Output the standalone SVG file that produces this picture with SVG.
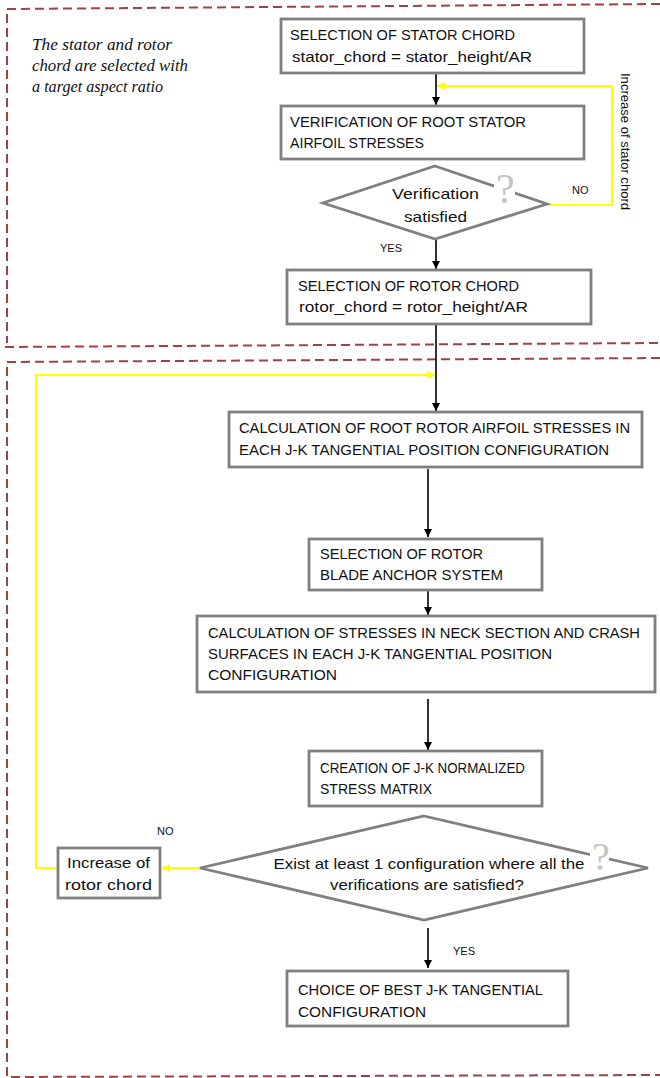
<svg xmlns="http://www.w3.org/2000/svg" width="660" height="1078" viewBox="0 0 660 1078">
<style>
.frame{fill:none;stroke:#a04242;stroke-width:2;stroke-dasharray:9 5}
.box{fill:#fff;stroke:#808080;stroke-width:2.8}
.t{font-family:"Liberation Sans",Arial,sans-serif;font-size:15px;fill:#111}
.s{font-family:"Liberation Sans",Arial,sans-serif;font-size:11px;fill:#111}
.it{font-family:"Liberation Serif","Times New Roman",serif;font-style:italic;font-size:16.5px;fill:#111}
.q{font-family:"Liberation Serif","Times New Roman",serif;fill:#c4c4c4}
.blk{fill:none;stroke:#000;stroke-width:1.6}
.yel{fill:none;stroke:#ffff00;stroke-width:2}
</style>
<defs>
<marker id="ab" markerUnits="userSpaceOnUse" markerWidth="8" markerHeight="8" refX="8" refY="4" orient="auto"><path d="M0,0 L8,4 L0,8 z" fill="#000"/></marker>
<marker id="ay" markerUnits="userSpaceOnUse" markerWidth="8" markerHeight="8" refX="8" refY="4" orient="auto"><path d="M0,0 L8,4 L0,8 z" fill="#ffff00"/></marker>
</defs>
<g id="frames">
<path class="frame" d="M660,4 L7,9 L7,343"/>
<path class="frame" d="M5,347 L660,343"/>
<path class="frame" d="M660,358 L7,362 L7,1077 L660,1075"/>
</g>
<g id="note">
<text class="it" x="32" y="50" textLength="140" lengthAdjust="spacingAndGlyphs">The stator and rotor</text>
<text class="it" x="32" y="71" textLength="156" lengthAdjust="spacingAndGlyphs">chord are selected with</text>
<text class="it" x="32" y="92" textLength="131" lengthAdjust="spacingAndGlyphs">a target aspect ratio</text>
</g>
<g id="connectors">
<line class="blk" x1="436" y1="73" x2="436" y2="105" marker-end="url(#ab)"/>
<polyline class="yel" points="547,205 612,205 612,86 437,86" marker-end="url(#ay)"/>
<line class="blk" x1="436" y1="240" x2="436" y2="269" marker-end="url(#ab)"/>
<line class="blk" x1="436" y1="325" x2="436" y2="411" marker-end="url(#ab)"/>
<polyline class="yel" points="58,868 36,868 36,375 435,375" marker-end="url(#ay)"/>
<line class="blk" x1="428" y1="469" x2="428" y2="537" marker-end="url(#ab)"/>
<line class="blk" x1="428" y1="591" x2="428" y2="615" marker-end="url(#ab)"/>
<line class="blk" x1="428" y1="699" x2="428" y2="750" marker-end="url(#ab)"/>
<line class="yel" x1="200" y1="868" x2="162" y2="868" marker-end="url(#ay)"/>
<line class="blk" x1="428" y1="928" x2="428" y2="968" marker-end="url(#ab)"/>
<text class="s" x="572" y="194">NO</text>
<text class="s" x="380" y="252">YES</text>
<text class="t" transform="translate(621,73) rotate(90)" style="font-size:13px" textLength="137" lengthAdjust="spacingAndGlyphs">Increase of stator chord</text>
<text class="s" x="157" y="835">NO</text>
<text class="s" x="453" y="955">YES</text>
</g>
<g id="n1">
<rect class="box" x="281" y="19" width="303" height="54"/>
<text class="t" x="290" y="40" textLength="225" lengthAdjust="spacingAndGlyphs">SELECTION OF STATOR CHORD</text>
<text class="t" x="292" y="62" textLength="240" lengthAdjust="spacingAndGlyphs">stator_chord = stator_height/AR</text>
</g>
<g id="n2">
<rect class="box" x="281" y="106" width="303" height="53"/>
<text class="t" x="290" y="127" textLength="236" lengthAdjust="spacingAndGlyphs">VERIFICATION OF ROOT STATOR</text>
<text class="t" x="290" y="148" textLength="134" lengthAdjust="spacingAndGlyphs">AIRFOIL STRESSES</text>
</g>
<g id="d1">
<polygon class="box" points="435,166 547,204 435,239 323,203"/>
<text class="t" x="435.5" y="199" text-anchor="middle" textLength="87" lengthAdjust="spacingAndGlyphs">Verification</text>
<text class="t" x="435.5" y="222" text-anchor="middle" textLength="63" lengthAdjust="spacingAndGlyphs">satisfied</text>
<rect x="494" y="172" width="21" height="33" fill="#fff"/>
<text class="q" x="496" y="203" font-size="42">?</text>
</g>
<g id="n3">
<rect class="box" x="287" y="270" width="304" height="54"/>
<text class="t" x="298" y="291" textLength="221" lengthAdjust="spacingAndGlyphs">SELECTION OF ROTOR CHORD</text>
<text class="t" x="299" y="312" textLength="229" lengthAdjust="spacingAndGlyphs">rotor_chord = rotor_height/AR</text>
</g>
<g id="n4">
<rect class="box" x="229" y="412" width="413" height="55"/>
<text class="t" x="239" y="433" textLength="391" lengthAdjust="spacingAndGlyphs" style="font-size:14.5px">CALCULATION  OF ROOT ROTOR AIRFOIL STRESSES IN</text>
<text class="t" x="239" y="455" textLength="370" lengthAdjust="spacingAndGlyphs">EACH J-K TANGENTIAL POSITION CONFIGURATION</text>
</g>
<g id="n5">
<rect class="box" x="309" y="539" width="233" height="51"/>
<text class="t" x="320" y="559" textLength="163" lengthAdjust="spacingAndGlyphs">SELECTION OF ROTOR</text>
<text class="t" x="320" y="580" textLength="183" lengthAdjust="spacingAndGlyphs">BLADE ANCHOR SYSTEM</text>
</g>
<g id="n6">
<rect class="box" x="197" y="616" width="458" height="76"/>
<text class="t" x="208" y="638" textLength="432" lengthAdjust="spacingAndGlyphs" style="font-size:14.5px">CALCULATION  OF STRESSES IN NECK SECTION AND CRASH</text>
<text class="t" x="208" y="659" textLength="344" lengthAdjust="spacingAndGlyphs">SURFACES IN EACH J-K TANGENTIAL POSITION</text>
<text class="t" x="208" y="680" textLength="129" lengthAdjust="spacingAndGlyphs">CONFIGURATION</text>
</g>
<g id="n7">
<rect class="box" x="309" y="751" width="233" height="55"/>
<text class="t" x="320" y="773" textLength="205" lengthAdjust="spacingAndGlyphs">CREATION OF J-K NORMALIZED</text>
<text class="t" x="320" y="794" textLength="112" lengthAdjust="spacingAndGlyphs">STRESS MATRIX</text>
</g>
<g id="d2">
<polygon class="box" points="424,816 648,868 424,920 200,868"/>
<text class="t" x="429" y="869" text-anchor="middle" textLength="311" lengthAdjust="spacingAndGlyphs">Exist at least 1 configuration where all the</text>
<text class="t" x="427" y="890" text-anchor="middle" textLength="194" lengthAdjust="spacingAndGlyphs">verifications are satisfied?</text>
<rect x="590" y="841" width="19" height="31" fill="#fff"/>
<text class="q" x="592" y="870" font-size="40">?</text>
</g>
<g id="n8">
<rect class="box" x="58" y="848" width="102" height="50"/>
<text class="t" x="108.5" y="868" text-anchor="middle" textLength="83" lengthAdjust="spacingAndGlyphs">Increase of</text>
<text class="t" x="108.5" y="890" text-anchor="middle" textLength="87" lengthAdjust="spacingAndGlyphs">rotor chord</text>
</g>
<g id="n9">
<rect class="box" x="287" y="971" width="281" height="55"/>
<text class="t" x="298" y="995" textLength="245" lengthAdjust="spacingAndGlyphs">CHOICE OF BEST J-K TANGENTIAL</text>
<text class="t" x="298" y="1017" textLength="128" lengthAdjust="spacingAndGlyphs">CONFIGURATION</text>
</g>
</svg>
